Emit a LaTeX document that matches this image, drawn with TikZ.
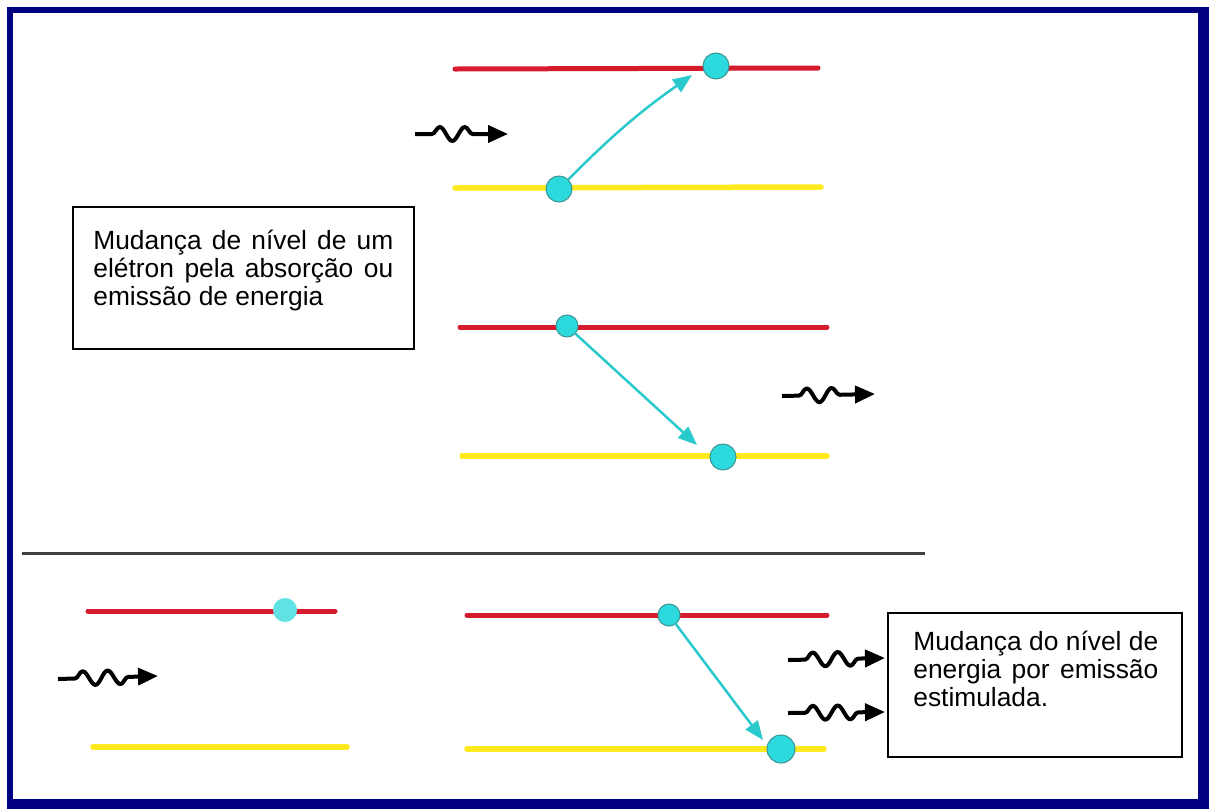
\documentclass[tikz,border=0pt]{standalone}
\usepackage{fontspec}
\setmainfont{Liberation Sans}
\usetikzlibrary{arrows.meta,decorations.pathmorphing}
\definecolor{frameblue}{RGB}{0,0,128}
\definecolor{lvred}{RGB}{214,28,44}
\definecolor{lvyellow}{RGB}{255,234,30}
\definecolor{elcyan}{RGB}{44,218,222}
\definecolor{eledge}{RGB}{60,150,150}
\begin{document}
\begin{tikzpicture}[x=0.02cm,y=-0.02cm,
  upper/.style={lvred, line width=0.1cm, line cap=round},
  lower/.style={lvyellow, line width=0.11cm, line cap=round},
  electron/.style={circle, fill=elcyan, draw=eledge, line width=0.6pt, minimum size=0.52cm, inner sep=0pt},
  jump/.style={elcyan!92!black, line width=0.05cm, -{Triangle[length=0.38cm,width=0.3cm]}},
  photon/.style={line width=0.08cm, line join=round, decorate, decoration={snake, amplitude=0.14cm, segment length=0.5cm, pre length=0.34cm, post length=0.5cm}, -{Triangle[length=0.4cm,width=0.34cm]}},
  note/.style={draw, line width=0.04cm, inner sep=0pt},
  notetext/.style={anchor=north west, align=justify, inner sep=0pt, font=\fontsize{15}{15.8}\selectfont}]
\useasboundingbox (0,0) rectangle (1209,809);
\fill[frameblue] (7,7) rectangle (1209,809);
\fill[white] (13,13) rectangle (1198,799);
\draw[line width=0.06cm, black!75] (22,553) -- (925,553);

\draw[upper] (455,69) -- (818,68);
\draw[lower] (455,188) -- (821,187);
\node[electron] (e1) at (716,66) {};
\node[electron] (e2) at (559,189) {};
\coordinate (t1) at (692,75);
\draw[jump] (e2) to[bend left=5] (t1);

\draw[upper] (460,327) -- (827,327);
\draw[lower] (462,456) -- (827,456);
\node[electron, minimum size=0.44cm] (e3) at (567,326) {};
\node[electron] (e4) at (723,457) {};
\coordinate (t2) at (697,445);
\draw[jump] (e3) -- (t2);

\draw[upper] (88,611) -- (335,611);
\draw[lower] (93,747) -- (347,747);
\node[circle, fill=elcyan!75!white, minimum size=0.48cm, inner sep=0pt] (e5) at (285,610) {};

\draw[upper] (467,615) -- (827,615);
\draw[lower] (467,749) -- (824,749);
\node[electron, minimum size=0.44cm] (e6) at (669,615) {};
\node[electron, minimum size=0.56cm] (e7) at (781,749) {};
\coordinate (t3) at (763,740);
\draw[jump] (e6) -- (t3);

\coordinate (w1s) at (415,134);
\coordinate (w1e) at (508,134);
\coordinate (w2s) at (782,396);
\coordinate (w2e) at (875,394);
\coordinate (w3s) at (58,679);
\coordinate (w3e) at (158,676);
\coordinate (w4s) at (788,660);
\coordinate (w4e) at (885,658);
\coordinate (w5s) at (788,713);
\coordinate (w5e) at (885,712);
\draw[photon] (w1s) -- (w1e);
\draw[photon] (w2s) -- (w2e);
\draw[photon] (w3s) -- (w3e);
\draw[photon] (w4s) -- (w4e);
\draw[photon] (w5s) -- (w5e);

\node[note, minimum width=6.82cm, minimum height=2.84cm] (box1) at (243.5,278) {};
\node[notetext, text width=6cm] (txt1) at (93,230) {Mudança de nível de um elétron pela absorção ou emissão de energia};
\node[note, minimum width=5.88cm, minimum height=2.88cm] (box2) at (1035,685) {};
\node[notetext, text width=4.9cm] (txt2) at (913,631) {Mudança do nível de energia por emissão estimulada.};
\end{tikzpicture}
\end{document}
